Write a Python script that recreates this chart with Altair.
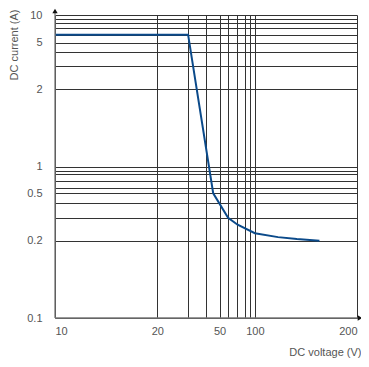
import altair as alt
import pandas as pd

# ---- data ----
voltage = [10, 30, 45, 60, 71, 100, 117, 133, 155]          # DC voltage (V)
current = [6.0, 6.0, 0.5, 0.3, 0.265, 0.228, 0.213, 0.206, 0.2]  # DC current (A)

x_grid = [10, 20, 30, 40, 50, 60, 70, 80, 90, 100, 200]
x_labels = [10, 20, 50, 100, 200]
y_grid = [0.1, 0.2, 0.3, 0.4, 0.5, 0.6, 0.7, 0.8, 0.9, 1, 2, 3, 4, 5, 6, 7, 8, 9, 10]
y_labels = [0.1, 0.2, 0.5, 1, 2, 5, 10]

# ---- layout of the (non-uniform) printed grid: piecewise log scales ----
W, H = 302, 303
x_px = [0, 102.3, 133.1, 151.2, 164.5, 173.1, 181.8, 189.5, 194.7, 199.9, 302]
y_px = [303, 225.7, 202.7, 188.3, 178.3, 172.7, 165.7, 159.3, 155.7, 151.7,
        74, 51.3, 36.7, 27.7, 19.7, 13, 8.3, 4.3, 0]

FONT = "Liberation Sans"
TXT = "#555555"
GRID = "#333333"

df = pd.DataFrame({"v": voltage, "i": current})

xscale = alt.Scale(type="log", domain=x_grid, range=x_px, nice=False)
yscale = alt.Scale(type="log", domain=y_grid, range=y_px, nice=False)

x_lab = "[" + ",".join(str(v) for v in x_labels) + "]"
y_lab = "[" + ",".join(str(v) for v in y_labels) + "]"

xaxis = alt.Axis(
    values=x_grid, format="~g",
    labelExpr=f"indexof({x_lab}, datum.value) >= 0 ? datum.label : ''",
    grid=True, gridColor=GRID, gridWidth=1, gridOpacity=1,
    ticks=False, tickSize=0, domain=False,
    labelPadding=7, labelFontSize=11, labelColor=TXT, labelFont=FONT,
    labelFlush=True, labelOverlap=False,
    title="DC voltage (V)", titleX=306, titleY=34, titleAlign="right",
    titleBaseline="middle", titleFontWeight="normal", titleFontSize=11,
    titleColor=TXT, titleFont=FONT,
)
yaxis = alt.Axis(
    values=y_grid, format="~g",
    labelExpr=f"indexof({y_lab}, datum.value) >= 0 ? datum.label : ''",
    grid=True, gridColor=GRID, gridWidth=1, gridOpacity=1,
    ticks=False, tickSize=0, domain=False,
    labelPadding=13, labelFontSize=11, labelColor=TXT, labelFont=FONT,
    labelOverlap=False,
    title="DC current (A)", titleX=-41, titleY=-6, titleAngle=270,
    titleAlign="right", titleBaseline="middle", titleFontWeight="normal",
    titleFontSize=11, titleColor=TXT, titleFont=FONT,
)

curve = alt.Chart(df).mark_line(color="#0b4a8a", strokeWidth=2).encode(
    x=alt.X("v:Q", scale=xscale, axis=xaxis),
    y=alt.Y("i:Q", scale=yscale, axis=yaxis),
)

one = pd.DataFrame({"k": [0]})
yline = alt.Chart(one).mark_rule(color="#777777", strokeWidth=1.3).encode(
    x=alt.value(0), y=alt.value(-3), y2=alt.value(H))
xline = alt.Chart(one).mark_rule(color="#777777", strokeWidth=1.3).encode(
    x=alt.value(0), x2=alt.value(W + 2), y=alt.value(H))
yarrow = alt.Chart(one).mark_point(shape="triangle-up", filled=True, size=28,
                                   color="#111111", opacity=1).encode(
    x=alt.value(0), y=alt.value(-4))
xarrow = alt.Chart(one).mark_point(shape="triangle-right", filled=True, size=28,
                                   color="#111111", opacity=1).encode(
    x=alt.value(W + 3), y=alt.value(H))

chart = alt.layer(curve, yline, xline, yarrow, xarrow).properties(
    width=W, height=H,
    autosize=alt.AutoSizeParams(type="none"),
    padding={"left": 47, "top": 7, "right": 4, "bottom": 41},
).configure_view(stroke=None)

chart.save("out.html", embed_options={"renderer": "svg", "actions": False})
